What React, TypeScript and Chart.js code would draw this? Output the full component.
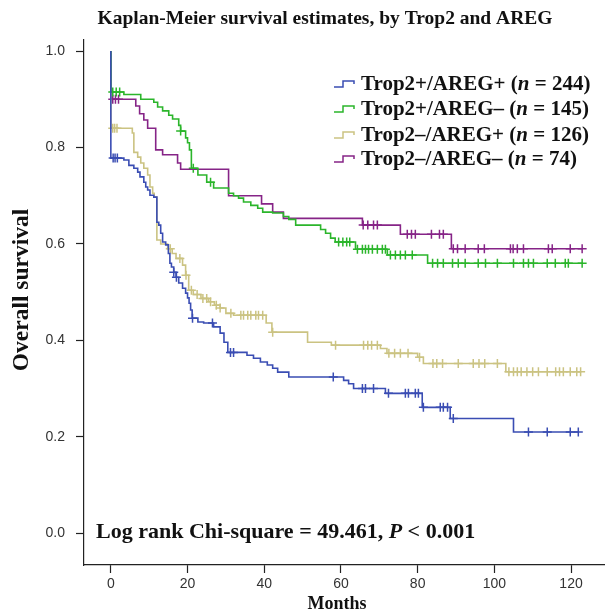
import React, { useEffect, useRef } from "react";
import { Chart, registerables } from "chart.js";
Chart.register(...registerables);

const titleText = "Kaplan-Meier survival estimates, by Trop2 and AREG";
const xAxisTitle = "Months";
const yAxisTitle = "Overall survival";
const xTicks = [0, 20, 40, 60, 80, 100, 120];
const yTicks = [0, 0.2, 0.4, 0.6, 0.8, 1.0];

const groupLabels = ["Trop2+/AREG+", "Trop2+/AREG–", "Trop2–/AREG+", "Trop2–/AREG–"];
const groupN = [244, 145, 126, 74];
const groupColors = ["#3a4db3", "#2bb52b", "#cbc382", "#862487"];

// Trop2+/AREG+
const timesA = [0, 0, 3.4, 4.7, 6, 7, 7.6, 8.6, 9.1, 9.6, 10.2, 11.2, 12, 12.5, 13, 13.5, 14.3, 15, 15.4, 15.8, 16.4, 17, 17.7, 18.7, 19.5, 20, 20.4, 20.8, 21.2, 22.7, 24.2, 26.8, 28.5, 29.5, 30.5, 35.5, 37.2, 39, 40.8, 42.2, 43.5, 46.4, 60.7, 62, 63.3, 71.6, 81.2, 88.5, 105, 121.9];
const survA = [1, 0.778, 0.774, 0.763, 0.757, 0.749, 0.739, 0.728, 0.718, 0.712, 0.701, 0.697, 0.645, 0.639, 0.622, 0.604, 0.598, 0.58, 0.56, 0.552, 0.541, 0.531, 0.519, 0.508, 0.498, 0.488, 0.477, 0.463, 0.446, 0.438, 0.436, 0.428, 0.415, 0.396, 0.375, 0.369, 0.363, 0.355, 0.349, 0.342, 0.334, 0.324, 0.317, 0.31, 0.3, 0.29, 0.261, 0.238, 0.21, 0.21];
const censA = [0.6, 1.1, 1.7, 16.4, 17.1, 21.3, 26.5, 31.2, 32.0, 58, 65.6, 66.4, 68.5, 72.4, 76.8, 77.6, 79.4, 80.2, 81.5, 85.9, 86.7, 87.8, 89.3, 108.9, 113.8, 119.8, 121.9];

// Trop2+/AREG-
const timesB = [0, 0, 3.4, 7.8, 11.2, 12.2, 13.5, 15.1, 16.1, 17.7, 18.2, 19.5, 20, 20.5, 21, 22.7, 25, 26.8, 30.7, 32, 33.3, 34.6, 36.5, 38.3, 39.6, 42.2, 45, 46.4, 48.2, 54.7, 56, 57.3, 58.5, 63.8, 72.1, 82.6, 123];
const survB = [1, 0.915, 0.91, 0.9, 0.894, 0.884, 0.876, 0.867, 0.859, 0.846, 0.834, 0.82, 0.81, 0.795, 0.757, 0.743, 0.728, 0.716, 0.705, 0.7, 0.695, 0.687, 0.68, 0.674, 0.666, 0.664, 0.657, 0.651, 0.639, 0.63, 0.622, 0.612, 0.604, 0.589, 0.577, 0.56, 0.56];
const censB = [0.5, 1.4, 2.3, 18.2, 21.5, 26, 59.4, 60.5, 61.5, 62.3, 64.3, 65.6, 66.4, 67.2, 68.2, 69.5, 70.8, 71.6, 72.9, 74.2, 75.5, 76.8, 78.6, 83.9, 85.2, 86.7, 89.1, 90.6, 92.4, 95.8, 97.7, 100.8, 105, 107.6, 108.9, 110.2, 113.8, 115.9, 118.5, 119.3, 122.9];

// Trop2-/AREG+
const timesC = [0, 0, 5.6, 6, 7, 7.8, 8.6, 9.6, 10.2, 10.9, 11.3, 12, 13, 14.8, 16, 17, 18.7, 19.5, 20.3, 21.5, 23.5, 25.5, 27, 28.5, 30, 32, 40.5, 42, 51.3, 57.5, 70.3, 72, 80, 81.5, 103, 122.5];
const survC = [1, 0.84, 0.83, 0.79, 0.78, 0.768, 0.757, 0.743, 0.718, 0.705, 0.697, 0.608, 0.6, 0.59, 0.58, 0.57, 0.556, 0.535, 0.504, 0.495, 0.487, 0.48, 0.473, 0.467, 0.456, 0.452, 0.436, 0.417, 0.396, 0.39, 0.383, 0.373, 0.365, 0.352, 0.335, 0.335];
const censC = [0.5, 1.0, 1.6, 15.5, 18, 19.6, 21, 22.5, 24, 25, 26, 27.5, 28.5, 31.3, 33.9, 34.6, 35.7, 36.5, 37.8, 38.5, 39.6, 42.2, 58.6, 65.9, 67, 68, 69.5, 72.5, 74, 75.5, 77.5, 80.5, 84, 85, 86.5, 90.6, 94.5, 96, 97.5, 100.8, 103.8, 105, 106, 107, 108.5, 110, 111.5, 113.8, 116, 117, 118, 119.8, 121.5, 122.5];

// Trop2-/AREG-
const timesD = [0, 0, 6.5, 7.5, 8.6, 9.6, 11.7, 13.5, 17.4, 18.2, 30.7, 39.3, 42.2, 45, 65.6, 75.5, 88.8, 123];
const survD = [1, 0.9, 0.886, 0.87, 0.857, 0.84, 0.795, 0.785, 0.768, 0.755, 0.7, 0.683, 0.666, 0.653, 0.639, 0.62, 0.59, 0.59];
const censD = [0.5, 1.2, 2.0, 65.8, 67, 68.5, 69.5, 77.3, 78.4, 79.4, 83.6, 85.7, 86.7, 89.3, 90.4, 92.4, 95.8, 97.4, 104.2, 104.9, 106, 107.6, 114.1, 115.1, 119.8, 122.9];

const logRankPre = "Log rank Chi-square = 49.461, ";
const logRankP = "P";
const logRankPost = " < 0.001";

const allTimes = [timesA, timesB, timesC, timesD];
const allSurv = [survA, survB, survC, survD];
const allCens = [censA, censB, censC, censD];

function survAt(times: number[], surv: number[], t: number) {
  let v = surv[0];
  for (let i = 0; i < times.length; i++) {
    if (times[i] <= t) v = surv[i];
  }
  return v;
}

const SERIF = '"Liberation Serif", "Times New Roman", serif';
const SANS = '"Liberation Sans", Arial, sans-serif';

function drawRich(ctx: CanvasRenderingContext2D, parts: { t: string; it: boolean }[], x: number, y: number, size: number) {
  let cx = x;
  for (const p of parts) {
    ctx.font = `${p.it ? "italic " : ""}bold ${size}px ${SERIF}`;
    ctx.fillText(p.t, cx, y);
    cx += ctx.measureText(p.t).width;
  }
}

const textPlugin = {
  id: "kmTexts",
  afterDraw(chart: any) {
    const ctx: CanvasRenderingContext2D = chart.ctx;
    ctx.save();
    ctx.fillStyle = "#111";
    ctx.textBaseline = "middle";
    // title
    ctx.textAlign = "center";
    ctx.font = `bold 19.5px ${SERIF}`;
    ctx.fillText(titleText, 325, 19);
    // x title
    ctx.font = `bold 18px ${SERIF}`;
    ctx.fillText(xAxisTitle, 337, 604);
    // y title
    ctx.save();
    ctx.translate(22, 290);
    ctx.rotate(-Math.PI / 2);
    ctx.font = `bold 23.5px ${SERIF}`;
    ctx.fillText(yAxisTitle, 0, 0);
    ctx.restore();
    // legend
    ctx.textAlign = "left";
    const rowsY = [84, 109, 135, 159];
    for (let i = 0; i < groupLabels.length; i++) {
      const y = rowsY[i];
      const x0 = 334;
      ctx.strokeStyle = groupColors[i];
      ctx.lineWidth = 1.5;
      ctx.beginPath();
      ctx.moveTo(x0, y + 3);
      ctx.lineTo(x0 + 9, y + 3);
      ctx.lineTo(x0 + 9, y - 3);
      ctx.lineTo(x0 + 20, y - 3);
      ctx.lineTo(x0 + 20, y);
      ctx.stroke();
      drawRich(ctx, [
        { t: groupLabels[i] + " (", it: false },
        { t: "n", it: true },
        { t: " = " + groupN[i] + ")", it: false },
      ], 361, y + 1, 21);
    }
    // log rank annotation
    drawRich(ctx, [
      { t: logRankPre, it: false },
      { t: logRankP, it: true },
      { t: logRankPost, it: false },
    ], 96, 532, 22);
    ctx.restore();
  },
};

export default function App() {
  const ref = useRef<HTMLCanvasElement>(null);
  useEffect(() => {
    document.body.style.margin = "0";
    const datasets: any[] = [];
    for (let g = 0; g < 4; g++) {
      datasets.push({
        label: groupLabels[g],
        data: allTimes[g].map((t, i) => ({ x: t, y: allSurv[g][i] })),
        showLine: true,
        stepped: true,
        borderColor: groupColors[g],
        borderWidth: 1.6,
        pointRadius: 0,
        fill: false,
      });
    }
    for (let g = 0; g < 4; g++) {
      datasets.push({
        label: groupLabels[g] + " censored",
        data: allCens[g].map((t) => ({ x: t, y: survAt(allTimes[g], allSurv[g], t) })),
        showLine: false,
        pointStyle: "cross",
        pointRadius: 4.5,
        borderColor: groupColors[g],
        backgroundColor: groupColors[g],
        pointBorderWidth: 1.5,
      });
    }
    const chart = new Chart(ref.current!, {
      type: "scatter",
      data: { datasets },
      plugins: [textPlugin],
      options: {
        animation: false,
        responsive: false,
        layout: { padding: { top: 40, right: 6, left: 0, bottom: 0 } },
        plugins: { legend: { display: false }, tooltip: { enabled: false }, title: { display: false } },
        scales: {
          x: {
            type: "linear",
            min: -7,
            max: 128.6,
            afterFit: (s: any) => { s.height = 50; },
            afterBuildTicks: (s: any) => { s.ticks = xTicks.map((v) => ({ value: v })); },
            grid: { drawOnChartArea: false, color: "#222", tickLength: 8, tickWidth: 1.2 },
            border: { display: true, color: "#222", width: 1.2 },
            ticks: { color: "#333", font: { family: SANS, size: 14 }, padding: 3, maxRotation: 0, callback: (v: any) => String(v) },
          },
          y: {
            type: "linear",
            min: -0.066,
            max: 1.023,
            afterFit: (s: any) => { s.width = 84; },
            afterBuildTicks: (s: any) => { s.ticks = yTicks.map((v) => ({ value: v })); },
            grid: { drawOnChartArea: false, color: "#222", tickLength: 8, tickWidth: 1.2 },
            border: { display: true, color: "#222", width: 1.2 },
            ticks: { color: "#333", font: { family: SANS, size: 14 }, padding: 11, callback: (v: any) => Number(v).toFixed(1) },
          },
        },
      },
    });
    return () => chart.destroy();
  }, []);
  return (
    <div style={{ position: "absolute", left: 0, top: 0, width: 610, height: 615, background: "#fff" }}>
      <canvas ref={ref} width={610} height={615} />
    </div>
  );
}
